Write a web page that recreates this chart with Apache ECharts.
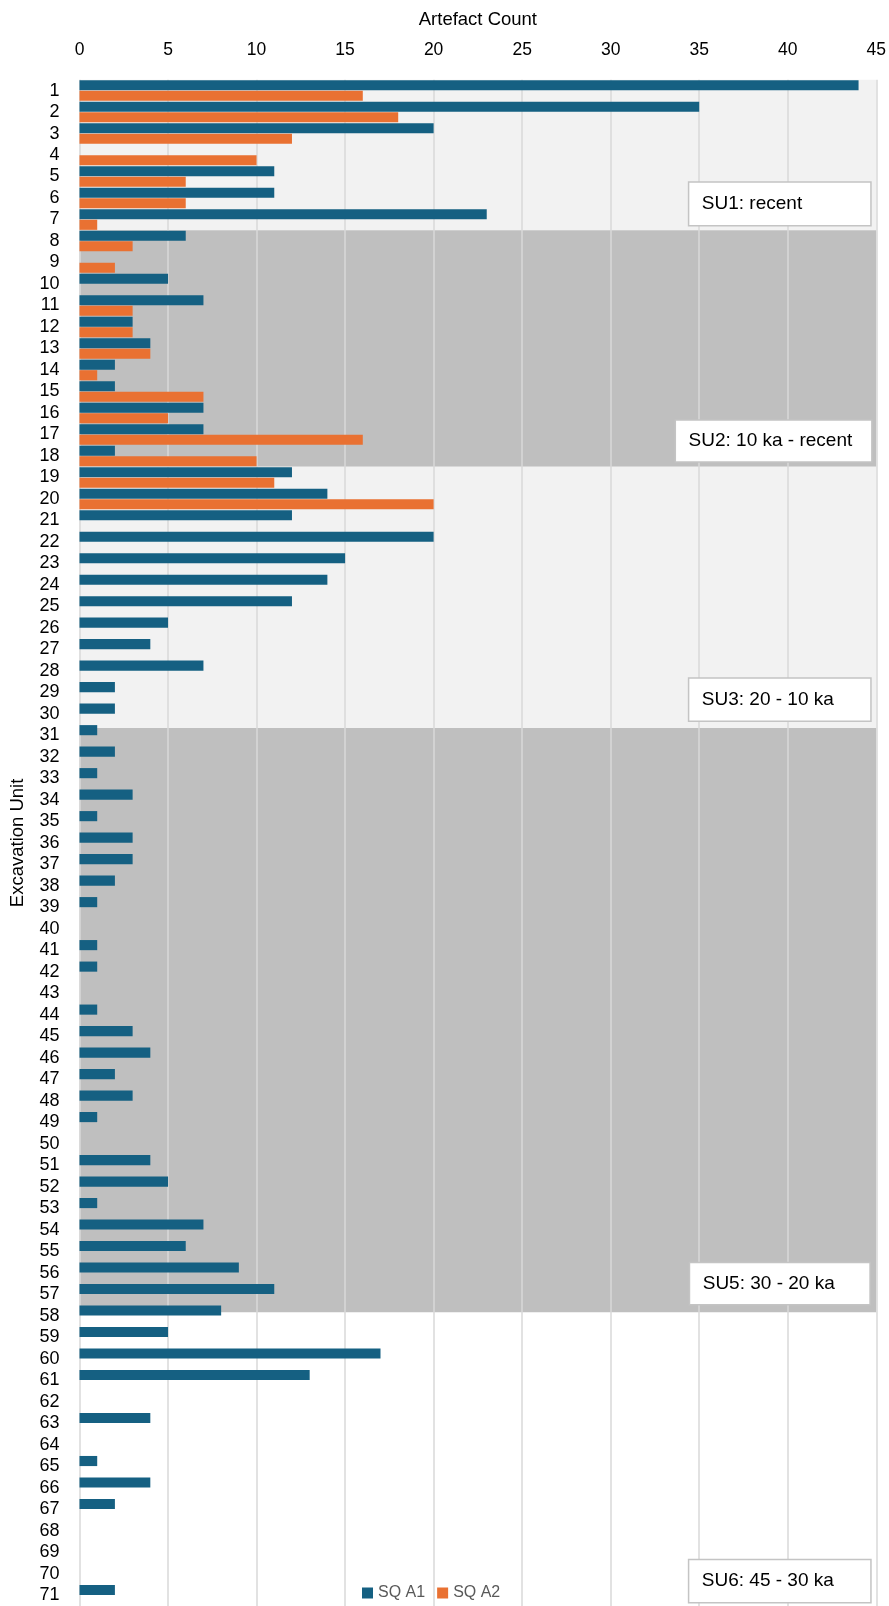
<!DOCTYPE html>
<html>
<head>
<meta charset="utf-8">
<script src="https://cdn.jsdelivr.net/npm/echarts@6/dist/echarts.min.js"></script>
<style>
html,body{margin:0;padding:0;background:#fff;}
#chart{width:889px;height:1606px;}
</style>
</head>
<body>
<div id="chart"></div>
<script>
// Categories (excavation units)
const units = ['1','2','3','4','5','6','7','8','9','10','11','12','13','14','15','16','17','18','19','20',
  '21','22','23','24','25','26','27','28','29','30','31','32','33','34','35','36','37','38','39','40',
  '41','42','43','44','45','46','47','48','49','50','51','52','53','54','55','56','57','58','59','60',
  '61','62','63','64','65','66','67','68','69','70','71'];

// Series values
const sqA1 = [44,35,20,0,11,11,23,6,0,5, 7,3,4,2,2,7,7,2,12,14, 12,20,15,14,12,5,4,7,2,2,
  1,2,1,3,1,3,3,2,1,0, 1,1,0,1,3,4,2,3,1,0, 4,5,1,7,6,9,11,8,5,17, 13,0,4,0,1,4,2,0,0,0,2];
const sqA2 = [16,18,12,10,6,6,1,3,2,0, 3,3,4,1,7,5,16,10,11,20, 0,0,0,0,0,0,0,0,0,0,
  0,0,0,0,0,0,0,0,0,0, 0,0,0,0,0,0,0,0,0,0, 0,0,0,0,0,0,0,0,0,0, 0,0,0,0,0,0,0,0,0,0,0];

// Stratigraphic unit zones (in category units from the top) and labels
const suBounds = [0, 7, 18, 30.15, 57.35, 71];
const suFill = ['#f2f2f2', '#bfbfbf', '#f2f2f2', '#bfbfbf', '#ffffff'];
const suLabels = ['SU1: recent', 'SU2: 10 ka - recent', 'SU3: 20 - 10 ka', 'SU5: 30 - 20 ka', 'SU6: 45 - 30 ka'];
// label box extents: [left x, right x], [top y, bottom y] in data units
const suBoxX = [[34.4, 44.7], [33.65, 44.75], [34.4, 44.7], [34.45, 44.65], [34.4, 44.7]];
const suBoxY = [[4.75, 6.79], [15.83, 17.78], [27.83, 29.84], [55.02, 56.99], [68.84, 70.85]];

const xTicks = {min: 0, max: 45, interval: 5};

const FONT = '"Liberation Sans", Arial, sans-serif';

const chart = echarts.init(document.getElementById('chart'), null, {renderer: 'canvas'});

const shadeData = suFill.map((c, i) => [
  {xAxis: xTicks.min, yAxis: suBounds[i], itemStyle: {color: c, opacity: 1}},
  {xAxis: xTicks.max, yAxis: suBounds[i + 1]}
]);
const boxData = suLabels.map((t, i) => [
  {name: t, xAxis: suBoxX[i][0], yAxis: suBoxY[i][0]},
  {xAxis: suBoxX[i][1], yAxis: suBoxY[i][1]}
]);

chart.setOption({
  animation: false,
  backgroundColor: '#ffffff',
  textStyle: {fontFamily: FONT},
  grid: {left: 79.5, top: 79.8, width: 797.5, height: 1528.6, show: false},
  legend: {
    data: ['SQ A1', 'SQ A2'],
    left: 357, top: 1580,
    icon: 'rect', itemWidth: 11, itemHeight: 11, itemGap: 12,
    textStyle: {color: '#595959', fontSize: 16, fontFamily: FONT}
  },
  xAxis: {
    type: 'value', position: 'top',
    min: xTicks.min, max: xTicks.max, interval: xTicks.interval,
    name: 'Artefact Count', nameLocation: 'middle', nameGap: 50,
    nameTextStyle: {color: '#000', fontSize: 18.5, fontFamily: FONT},
    axisLine: {show: false}, axisTick: {show: false},
    axisLabel: {color: '#000', fontSize: 17.5, margin: 21, fontFamily: FONT},
    splitLine: {show: true, lineStyle: {color: '#d9d9d9', width: 1.5}}
  },
  yAxis: [{
    type: 'category', data: units, inverse: true,
    name: 'Excavation Unit', nameLocation: 'middle', nameGap: 52,
    nameTextStyle: {color: '#000', fontSize: 18.5, fontFamily: FONT},
    axisLine: {show: false}, axisTick: {show: false},
    axisLabel: {color: '#000', fontSize: 18, margin: 20, interval: 0, fontFamily: FONT}
  }, {
    type: 'value', inverse: true, min: 0, max: 71, show: false
  }],
  series: [
    {
      name: 'zones', type: 'scatter', xAxisIndex: 0, yAxisIndex: 1, data: [], z: -5,
      silent: true,
      markArea: {silent: true, z: -5, data: shadeData}
    },
    {
      name: 'SQ A1', type: 'bar', yAxisIndex: 0, data: sqA1,
      itemStyle: {color: '#156082'},
      barCategoryGap: '4%', barGap: '4%'
    },
    {
      name: 'SQ A2', type: 'bar', yAxisIndex: 0, data: sqA2,
      itemStyle: {color: '#E97132'},
      barCategoryGap: '4%', barGap: '4%'
    },
    {
      name: 'boxes', type: 'scatter', xAxisIndex: 0, yAxisIndex: 1, data: [], z: 10,
      silent: true,
      markArea: {
        silent: true,
        itemStyle: {color: '#ffffff', borderColor: '#c4c4c4', borderWidth: 1.5, opacity: 1},
        label: {show: true, position: 'insideLeft', distance: 14, color: '#000', fontSize: 19, fontFamily: FONT},
        data: boxData
      }
    }
  ]
});
</script>
</body>
</html>
